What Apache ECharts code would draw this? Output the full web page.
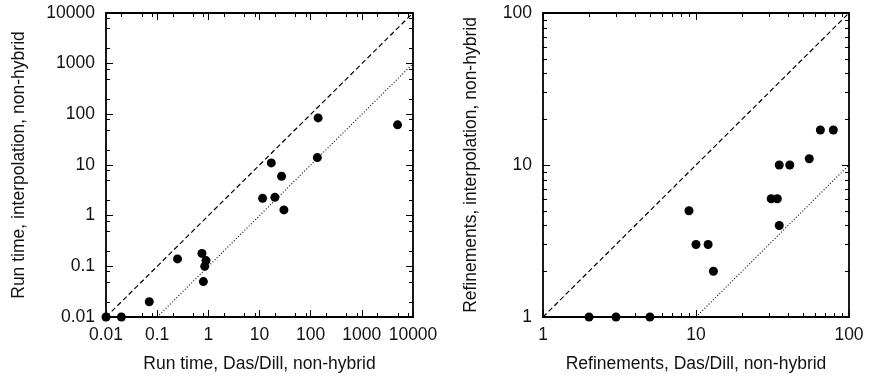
<!DOCTYPE html>
<html>
<head>
<meta charset="utf-8">
<script src="https://cdn.jsdelivr.net/npm/echarts@6/dist/echarts.min.js"></script>
<style>
html,body{margin:0;padding:0;background:#fff;}
#chart{width:873px;height:376px;}
</style>
</head>
<body>
<div id="chart"></div>
<script>
// ---- Data ----
var runDasDill = [0.01, 0.02, 0.07, 0.25, 0.75, 0.8, 0.85, 0.9, 11.5, 20, 30, 17, 27, 135, 140, 5000];
var runInterp  = [0.01, 0.01, 0.02, 0.14, 0.18, 0.05, 0.1, 0.13, 2.2, 2.3, 1.3, 11, 6, 14, 85, 62];
var refDasDill = [2, 3, 5, 9, 10, 12, 13, 31, 34, 35, 35, 41, 55, 65, 79];
var refInterp  = [1, 1, 1, 5, 3, 3, 2, 6, 6, 4, 10, 10, 11, 17, 17];

var runTickLabels = ['0.01', '0.1', '1', '10', '100', '1000', '10000'];
var refTickLabels = ['1', '10', '100'];
var runRange = [0.01, 10000];
var refRange = [1, 100];
var runMinorMult = [2, 5, 8];
var refMinorMult = [2, 3, 4, 5, 6, 7, 8, 9];

// reference lines: equality and ratio 1:10
var runEqualLine = [[0.01, 0.01], [10000, 10000]];
var runTenthLine = [[0.1, 0.01], [10000, 1000]];
var refEqualLine = [[1, 1], [100, 100]];
var refTenthLine = [[10, 1], [100, 10]];

var xTitleLeft = 'Run time, Das/Dill, non-hybrid';
var yTitleLeft = 'Run time, interpolation, non-hybrid';
var xTitleRight = 'Refinements, Das/Dill, non-hybrid';
var yTitleRight = 'Refinements, interpolation, non-hybrid';

// ---- Build ----
var FONT = 'Liberation Sans';
var FS = 17.5;
var TXT = '#111';

function labelFmt(labels, min) {
  return function (v) {
    var i = Math.round(Math.log10(v) - Math.log10(min));
    return labels[i] !== undefined ? labels[i] : '';
  };
}

function minorValues(range, mults) {
  var out = [];
  var lo = Math.round(Math.log10(range[0])), hi = Math.round(Math.log10(range[1]));
  for (var k = lo; k < hi; k++) {
    for (var j = 0; j < mults.length; j++) {
      out.push(+(mults[j] * Math.pow(10, k)).toPrecision(6));
    }
  }
  return out;
}

function zip(a, b) { return a.map(function (v, i) { return [v, b[i]]; }); }

function axisPair(gridIndex, range, labels, isX, name, nameGap) {
  var main = {
    type: 'log', logBase: 10, gridIndex: gridIndex,
    min: range[0], max: range[1],
    position: isX ? 'bottom' : 'left',
    name: name, nameLocation: 'middle', nameGap: nameGap,
    nameTextStyle: { fontFamily: FONT, fontSize: FS, color: TXT },
    axisLine: { show: true, onZero: false, lineStyle: { color: '#000', width: 1.8 } },
    axisTick: { show: true, inside: true, length: 7, lineStyle: { color: '#000', width: 1 } },
    axisLabel: { show: true, margin: isX ? 9 : 11, fontFamily: FONT, fontSize: FS, color: TXT,
                 formatter: labelFmt(labels, range[0]), showMinLabel: true, showMaxLabel: true },
    splitLine: { show: false }, minorTick: { show: false }
  };
  var mirror = {
    type: 'log', logBase: 10, gridIndex: gridIndex,
    min: range[0], max: range[1],
    position: isX ? 'top' : 'right',
    axisLine: { show: true, onZero: false, lineStyle: { color: '#000', width: 1.8 } },
    axisTick: { show: true, inside: true, length: 7, lineStyle: { color: '#000', width: 1 } },
    axisLabel: { show: false },
    splitLine: { show: false }
  };
  if (!isX) main.nameRotate = 90;
  return [main, mirror];
}

var xAxes = [].concat(
  axisPair(0, runRange, runTickLabels, true, xTitleLeft, 38),
  axisPair(1, refRange, refTickLabels, true, xTitleRight, 38)
);
var yAxes = [].concat(
  axisPair(0, runRange, runTickLabels, false, yTitleLeft, 78),
  axisPair(1, refRange, refTickLabels, false, yTitleRight, 63)
);

function minorTickSeries(xIdx, yIdx, range, mults) {
  var vals = minorValues(range, mults);
  var data = [];
  vals.forEach(function (v) { data.push([v, range[0], 0]); });
  vals.forEach(function (v) { data.push([range[0], v, 1]); });
  return {
    type: 'custom', xAxisIndex: xIdx, yAxisIndex: yIdx, silent: true, clip: false, z: 5,
    data: data,
    renderItem: function (params, api) {
      var cs = params.coordSys;
      var kind = api.value(2);
      var len = 4;
      var style = { stroke: '#000', lineWidth: 1 };
      if (kind === 0) {
        var px = Math.round(api.coord([api.value(0), api.value(1)])[0]) + 0.5;
        return { type: 'group', children: [
          { type: 'line', shape: { x1: px, y1: cs.y + cs.height, x2: px, y2: cs.y + cs.height - len }, style: style },
          { type: 'line', shape: { x1: px, y1: cs.y, x2: px, y2: cs.y + len }, style: style }
        ]};
      } else {
        var py = Math.round(api.coord([api.value(0), api.value(1)])[1]) + 0.5;
        return { type: 'group', children: [
          { type: 'line', shape: { x1: cs.x, y1: py, x2: cs.x + len, y2: py }, style: style },
          { type: 'line', shape: { x1: cs.x + cs.width, y1: py, x2: cs.x + cs.width - len, y2: py }, style: style }
        ]};
      }
    }
  };
}

function refLine(xIdx, yIdx, data, type) {
  return {
    type: 'line', xAxisIndex: xIdx, yAxisIndex: yIdx, data: data,
    symbol: 'none', silent: true, animation: false, z: 2,
    lineStyle: type === 'dash'
      ? { color: '#000', width: 1.2, type: [5, 3], opacity: 1 }
      : { color: '#000', width: 1.1, type: [1, 2], opacity: 1 }
  };
}

function scatter(xIdx, yIdx, data) {
  return {
    type: 'scatter', xAxisIndex: xIdx, yAxisIndex: yIdx, data: data,
    symbol: 'circle', symbolSize: 9, clip: false, z: 10,
    itemStyle: { color: '#000', opacity: 1 }
  };
}

var option = {
  animation: false,
  backgroundColor: '#fff',
  grid: [
    { left: 106, top: 13, width: 307, height: 304, containLabel: false, outerBoundsMode: 'none' },
    { left: 543, top: 13, width: 306, height: 304, containLabel: false, outerBoundsMode: 'none' }
  ],
  xAxis: xAxes,
  yAxis: yAxes,
  series: [
    refLine(0, 0, runEqualLine, 'dash'),
    refLine(0, 0, runTenthLine, 'dot'),
    refLine(2, 2, refEqualLine, 'dash'),
    refLine(2, 2, refTenthLine, 'dot'),
    minorTickSeries(0, 0, runRange, runMinorMult),
    minorTickSeries(2, 2, refRange, refMinorMult),
    scatter(0, 0, zip(runDasDill, runInterp)),
    scatter(2, 2, zip(refDasDill, refInterp))
  ]
};

var chart = echarts.init(document.getElementById('chart'), null, { renderer: 'canvas' });
chart.setOption(option);
</script>
</body>
</html>
